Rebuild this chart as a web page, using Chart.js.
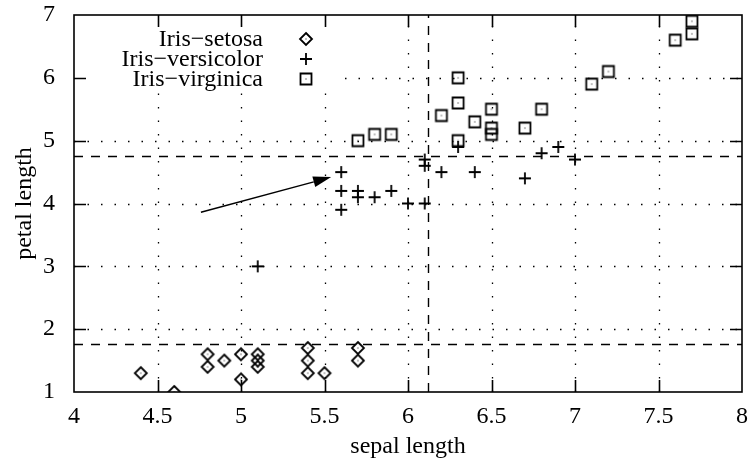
<!DOCTYPE html>
<html>
<head>
<meta charset="utf-8">
<script src="https://cdn.jsdelivr.net/npm/chart.js@4.4.0/dist/chart.umd.min.js"></script>
<style>
  html, body { margin: 0; padding: 0; background: #fff; }
  canvas { display: block; }
</style>
</head>
<body>
<canvas id="irisChart" width="750" height="459"></canvas>
<script>
// values (sepal length vs petal length)
const setosaSepal = [4.4, 4.6, 4.8, 4.8, 4.9, 5.0, 5.0, 5.1, 5.1, 5.1, 5.4, 5.4, 5.4, 5.5, 5.7, 5.7];
const setosaPetal = [1.3, 1.0, 1.6, 1.4, 1.5, 1.6, 1.2, 1.6, 1.5, 1.4, 1.7, 1.5, 1.3, 1.3, 1.7, 1.5];

const versicolorSepal = [5.1, 5.6, 5.6, 5.6, 5.7, 5.7, 5.8, 5.9, 6.0, 6.1, 6.1, 6.1, 6.2, 6.3, 6.4, 6.7, 6.8, 6.9, 7.0];
const versicolorPetal = [3.0, 4.5, 4.2, 3.9, 4.2, 4.1, 4.1, 4.2, 4.0, 4.0, 4.7, 4.6, 4.5, 4.9, 4.5, 4.4, 4.8, 4.9, 4.7];

const virginicaSepal = [5.7, 5.8, 5.9, 6.2, 6.3, 6.3, 6.3, 6.4, 6.5, 6.5, 6.5, 6.7, 6.8, 7.1, 7.2, 7.6, 7.7, 7.7];
const virginicaPetal = [5.0, 5.1, 5.1, 5.4, 6.0, 5.6, 5.0, 5.3, 5.5, 5.2, 5.1, 5.2, 5.5, 5.9, 6.1, 6.6, 6.7, 6.9];

const seriesNames = ['Iris\u2212setosa', 'Iris\u2212versicolor', 'Iris\u2212virginica'];

// dashed reference lines and the arrow (data units)
const refSepal = [6.12];
const refPetal = [1.76, 4.76];
const arrowFrom = [4.76, 3.86];
const arrowTo = [5.54, 4.42];

const xTicks = [4, 4.5, 5, 5.5, 6, 6.5, 7, 7.5, 8];
const yTicks = [1, 2, 3, 4, 5, 6, 7];

const FONT = "'Liberation Serif', 'DejaVu Serif', serif";

function marker(kind) {
    const c = document.createElement('canvas');
    c.width = c.height = 16;
    const g = c.getContext('2d');
    const m = 8;
    g.strokeStyle = '#000';
    g.fillStyle = '#000';
    g.lineWidth = 1.8;
    g.beginPath();
    if (kind === 'diamond') {
        g.moveTo(m, m - 6); g.lineTo(m + 6, m); g.lineTo(m, m + 6); g.lineTo(m - 6, m); g.closePath();
    } else if (kind === 'square') {
        g.rect(m - 5.5, m - 5.5, 11, 11);
    } else {
        g.moveTo(m - 6, m); g.lineTo(m + 6, m);
        g.moveTo(m, m - 6); g.lineTo(m, m + 6);
    }
    g.stroke();
    if (kind !== 'plus') g.fillRect(m - 0.5, m - 0.5, 1, 1);
    return c;
}
const markers = [marker('diamond'), marker('plus'), marker('square')];

function toPoints(xs, ys) {
    return xs.map((v, i) => ({ x: v, y: ys[i] }));
}

// key area (gnuplot key hides the grid behind it)
const keyRight = 345, keyBottom = 90;

const framePlugin = {
    id: 'frame',
    beforeDatasetsDraw(chart) {
        const { ctx, chartArea: a, scales: { x, y } } = chart;
        ctx.save();
        ctx.strokeStyle = '#000';

        // dotted grid
        ctx.lineWidth = 1.3;
        ctx.setLineDash([1.5, 12]);
        xTicks.slice(1, -1).forEach(t => {
            const px = Math.round(x.getPixelForValue(t)) + 0.5;
            const top = px < keyRight ? keyBottom : a.top;
            ctx.beginPath();
            ctx.moveTo(px, a.bottom);
            ctx.lineTo(px, top);
            ctx.stroke();
        });
        yTicks.slice(1, -1).forEach(t => {
            const py = Math.round(y.getPixelForValue(t)) + 0.5;
            const left = py < keyBottom ? keyRight : a.left;
            ctx.beginPath();
            ctx.moveTo(left, py);
            ctx.lineTo(a.right, py);
            ctx.stroke();
        });

        // dashed reference lines
        ctx.lineWidth = 1.4;
        ctx.setLineDash([9, 8]);
        refSepal.forEach(v => {
            const px = Math.round(x.getPixelForValue(v)) + 0.5;
            ctx.beginPath();
            ctx.moveTo(px, a.bottom);
            ctx.lineTo(px, a.top);
            ctx.stroke();
        });
        refPetal.forEach(v => {
            const py = Math.round(y.getPixelForValue(v)) + 0.5;
            ctx.beginPath();
            ctx.moveTo(a.left, py);
            ctx.lineTo(a.right, py);
            ctx.stroke();
        });

        // border and inward ticks on all four sides
        ctx.setLineDash([]);
        ctx.lineWidth = 1.6;
        ctx.strokeRect(a.left, a.top, a.right - a.left, a.bottom - a.top);
        ctx.beginPath();
        xTicks.slice(1, -1).forEach(t => {
            const px = Math.round(x.getPixelForValue(t)) + 0.5;
            ctx.moveTo(px, a.bottom); ctx.lineTo(px, a.bottom - 12);
            ctx.moveTo(px, a.top); ctx.lineTo(px, a.top + 12);
        });
        yTicks.slice(1, -1).forEach(t => {
            const py = Math.round(y.getPixelForValue(t)) + 0.5;
            ctx.moveTo(a.left, py); ctx.lineTo(a.left + 12, py);
            ctx.moveTo(a.right, py); ctx.lineTo(a.right - 12, py);
        });
        ctx.stroke();

        // arrow
        const x0 = x.getPixelForValue(arrowFrom[0]), y0 = y.getPixelForValue(arrowFrom[1]);
        const x1 = x.getPixelForValue(arrowTo[0]), y1 = y.getPixelForValue(arrowTo[1]);
        const ang = Math.atan2(y1 - y0, x1 - x0);
        const headLen = 18, headW = 5.5;
        const bx = x1 - headLen * Math.cos(ang), by = y1 - headLen * Math.sin(ang);
        ctx.lineWidth = 1.4;
        ctx.beginPath();
        ctx.moveTo(x0, y0);
        ctx.lineTo(bx, by);
        ctx.stroke();
        ctx.fillStyle = '#000';
        ctx.beginPath();
        ctx.moveTo(x1, y1);
        ctx.lineTo(bx + headW * Math.sin(ang), by - headW * Math.cos(ang));
        ctx.lineTo(bx - headW * Math.sin(ang), by + headW * Math.cos(ang));
        ctx.closePath();
        ctx.fill();
        ctx.restore();
    },
    afterDraw(chart) {
        const ctx = chart.ctx;
        ctx.save();
        ctx.font = '24px ' + FONT;
        ctx.fillStyle = '#000';
        ctx.textAlign = 'right';
        ctx.textBaseline = 'middle';
        seriesNames.forEach((name, i) => {
            const cy = 39 + i * 20;
            ctx.fillText(name, 263, cy + 1);
            ctx.drawImage(markers[i], 306 - 8, cy - 8);
        });
        ctx.restore();
    }
};

const ctx = document.getElementById('irisChart').getContext('2d');
const irisChart = new Chart(ctx, {
    type: 'scatter',
    data: {
        datasets: [
            { label: seriesNames[0], data: toPoints(setosaSepal, setosaPetal), pointStyle: markers[0] },
            { label: seriesNames[1], data: toPoints(versicolorSepal, versicolorPetal), pointStyle: markers[1] },
            { label: seriesNames[2], data: toPoints(virginicaSepal, virginicaPetal), pointStyle: markers[2] }
        ]
    },
    options: {
        responsive: false,
        animation: false,
        devicePixelRatio: 1,
        layout: { padding: { left: 0, right: 8, top: 15, bottom: 0 } },
        elements: { point: { radius: 6, hoverRadius: 6 } },
        plugins: {
            legend: { display: false },
            tooltip: { enabled: false }
        },
        scales: {
            x: {
                type: 'linear',
                min: 4,
                max: 8,
                grid: { display: false },
                border: { display: false },
                afterBuildTicks: axis => { axis.ticks = xTicks.map(v => ({ value: v })); },
                afterFit: axis => {
                    axis.height = 67;
                    axis.paddingLeft = 0;
                    axis.paddingRight = 0;
                },
                ticks: {
                    color: '#000',
                    padding: 2,
                    maxRotation: 0,
                    font: { family: FONT, size: 24 },
                    callback: v => String(v)
                },
                title: {
                    display: true,
                    text: 'sepal length',
                    color: '#000',
                    font: { family: FONT, size: 24, lineHeight: 1 },
                    padding: { top: 0, bottom: 0 }
                }
            },
            y: {
                type: 'linear',
                min: 1,
                max: 7,
                grid: { display: false },
                border: { display: false },
                afterBuildTicks: axis => { axis.ticks = yTicks.map(v => ({ value: v })); },
                afterFit: axis => {
                    axis.width = 74;
                    axis.paddingTop = 0;
                    axis.paddingBottom = 0;
                },
                ticks: {
                    color: '#000',
                    padding: 11,
                    font: { family: FONT, size: 24 },
                    callback: v => String(v)
                },
                title: {
                    display: true,
                    text: 'petal length',
                    color: '#000',
                    font: { family: FONT, size: 24, lineHeight: 1 },
                    padding: { top: 13, bottom: 0 }
                }
            }
        }
    },
    plugins: [framePlugin]
});
</script>
</body>
</html>
